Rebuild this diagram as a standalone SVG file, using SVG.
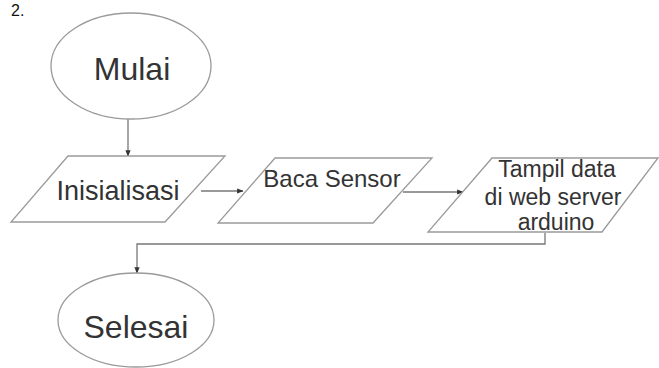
<svg xmlns="http://www.w3.org/2000/svg" width="659" height="368" viewBox="0 0 659 368">
<style>
.shape{fill:#fff;stroke:#9a9a9a;stroke-width:1.3}
.conn{fill:none;stroke:#777;stroke-width:1.3}
.t{font-family:"Liberation Sans",Arial,sans-serif;fill:#333;text-anchor:middle}
</style>
<defs>
<marker id="arr" viewBox="0 0 10 10" refX="9" refY="5" markerWidth="5" markerHeight="5" orient="auto">
<path d="M0,1 L10,5 L0,9 z" fill="#333"/>
</marker>
</defs>
<rect width="659" height="368" fill="#fff"/>
<text x="11" y="16" font-family="Liberation Sans,Arial,sans-serif" font-size="16" fill="#111">2.</text>
<g id="connectors">
<line class="conn" x1="128" y1="119" x2="128" y2="156" marker-end="url(#arr)"/>
<line class="conn" x1="201" y1="191" x2="243" y2="191" marker-end="url(#arr)"/>
<line class="conn" x1="403" y1="192" x2="463" y2="192" marker-end="url(#arr)"/>
<polyline class="conn" points="545,233 545,244 137,244 137,273" marker-end="url(#arr)"/>
</g>
<g id="mulai">
<ellipse class="shape" cx="131" cy="66" rx="80" ry="53"/>
<text class="t" x="132" y="80" font-size="32">Mulai</text>
</g>
<g id="inisialisasi">
<polygon class="shape" points="68,156 225,156 165,222 11,222"/>
<text class="t" x="118" y="200" font-size="27">Inisialisasi</text>
</g>
<g id="baca-sensor">
<polygon class="shape" points="275,158 432,158 373,223 218,223"/>
<text class="t" x="332" y="187" font-size="24">Baca Sensor</text>
</g>
<g id="tampil-data">
<polygon class="shape" points="492,158 658,158 602,232 428,232"/>
<text class="t" x="557" y="177" font-size="23" fill="#444">Tampil data</text>
<text class="t" x="553" y="205" font-size="23" fill="#444">di web server</text>
<text class="t" x="556" y="230" font-size="23" fill="#444">arduino</text>
</g>
<g id="selesai">
<ellipse class="shape" cx="136" cy="320" rx="78" ry="47"/>
<text class="t" x="136" y="338" font-size="32">Selesai</text>
</g>
</svg>
